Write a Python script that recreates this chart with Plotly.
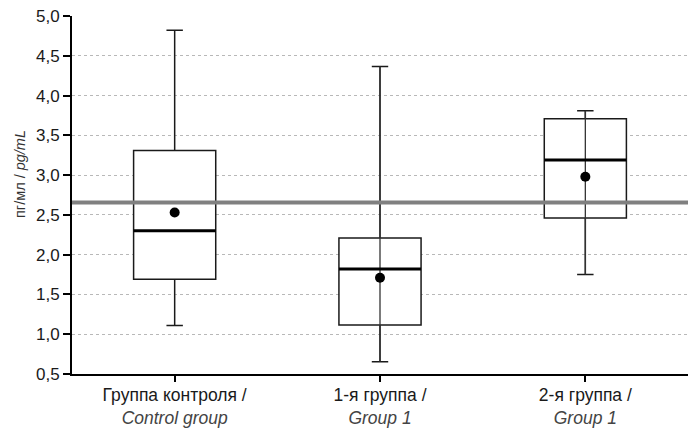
import plotly.graph_objects as go

categories = ["Группа контроля /<br><span style='color:#444'><i>Control group</i></span>",
              "1-я группа /<br><span style='color:#444'><i>Group 1</i></span>",
              "2-я группа /<br><span style='color:#444'><i>Group 1</i></span>"]
lower_whisker = [1.11, 0.655, 1.75]
q1 = [1.69, 1.115, 2.46]
median = [2.30, 1.82, 3.19]
q3 = [3.31, 2.21, 3.71]
upper_whisker = [4.82, 4.365, 3.81]
mean = [2.53, 1.71, 2.98]
whisker_through_box = [False, True, True]
reference_level = 2.655
y_ticks = [0.5, 1.0, 1.5, 2.0, 2.5, 3.0, 3.5, 4.0, 4.5, 5.0]
y_title = "пг/мл / <i>pg/mL</i>"

xpos = list(range(len(categories)))
box_w = 0.40
FONT = "Liberation Sans, Arial, Helvetica, sans-serif"

fig = go.Figure()
fig.add_trace(go.Box(
    x=xpos, q1=q1, median=median, q3=q3,
    lowerfence=lower_whisker, upperfence=upper_whisker,
    width=box_w, whiskerwidth=0.2,
    fillcolor="white", line=dict(color="#1a1a1a", width=1.5),
    boxpoints=False, showlegend=False, hoverinfo="skip",
))
for i in xpos:
    if whisker_through_box[i]:
        fig.add_trace(go.Scatter(
            x=[i, i], y=[lower_whisker[i], upper_whisker[i]], mode="lines",
            line=dict(color="#333333", width=1.3), showlegend=False, hoverinfo="skip"))
    fig.add_trace(go.Scatter(
        x=[i - box_w / 2, i + box_w / 2], y=[median[i], median[i]], mode="lines",
        line=dict(color="black", width=3), showlegend=False, hoverinfo="skip"))
fig.add_trace(go.Scatter(
    x=xpos, y=mean, mode="markers",
    marker=dict(color="black", size=10), showlegend=False, hoverinfo="skip"))

fig.add_shape(type="line", xref="paper", x0=0, x1=1, yref="y",
              y0=reference_level, y1=reference_level,
              line=dict(color="#808080", width=4), layer="above")

fig.add_annotation(text=y_title, textangle=-90, xref="paper", yref="paper",
                   x=-52 / 616, y=(374 - 174) / 358, xanchor="center", yanchor="middle",
                   showarrow=False, font=dict(size=14.5, color="#333"))

fig.update_layout(
    width=688, height=437,
    margin=dict(l=72, r=0, t=16, b=63),
    paper_bgcolor="white", plot_bgcolor="white",
    separators=", ",
    font=dict(family=FONT, size=16, color="#1a1a1a"),
)
fig.update_xaxes(
    range=[-0.5, 2.5], tickmode="array", tickvals=xpos, ticktext=categories,
    showline=True, linecolor="black", linewidth=2,
    ticks="outside", ticklen=6, tickwidth=2, tickcolor="black",
    showgrid=False, zeroline=False, tickfont=dict(size=17.5),
    automargin=False, ticklabelstandoff=-2,
)
fig.update_yaxes(
    range=[0.5, 5.0], tickmode="array", tickvals=y_ticks, tickformat=".1f",
    showline=True, linecolor="black", linewidth=2,
    ticks="outside", ticklen=7, tickwidth=2, tickcolor="black",
    showgrid=True, gridcolor="#b8b8b8", griddash="dot", gridwidth=1,
    zeroline=False, tickfont=dict(size=17), automargin=False,
)
fig.write_html("out.html", config={"displayModeBar": False},
               post_script="document.body.style.margin='0';document.body.style.padding='0';")
